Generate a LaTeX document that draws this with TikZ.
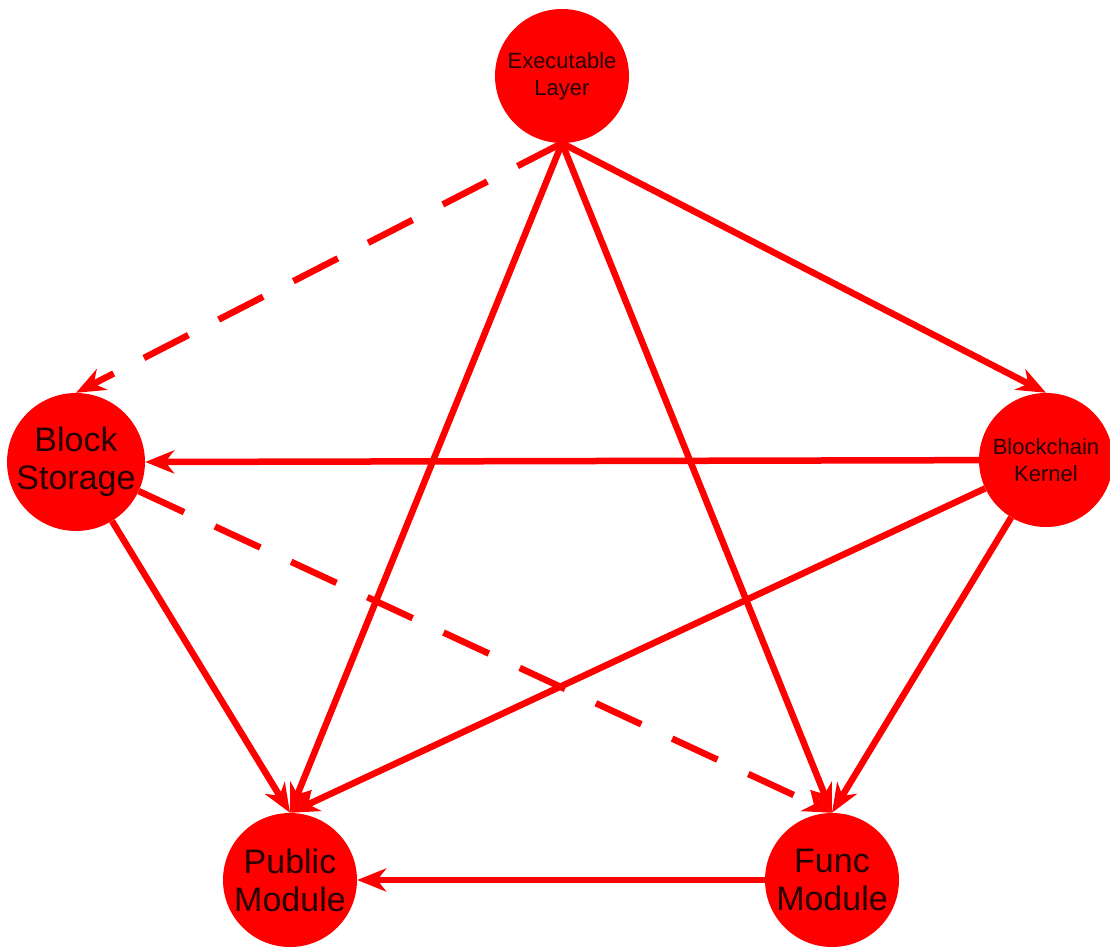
\documentclass[tikz,border=0pt]{standalone}
\usepackage{fontspec}
\setmainfont{Liberation Sans}
\usepackage{tikz}
\usetikzlibrary{arrows.meta,positioning}

\begin{document}
\begin{tikzpicture}[
  x=1pt, y=-1pt,
  layer/.style={circle, fill=red, draw=none, minimum size=134pt,
                inner sep=0pt, align=center, text=black!85!red,
                font=\fontsize{34}{38}\selectfont},
  small/.style={layer, font=\fontsize{22}{27}\selectfont},
  arrow/.style={-{Stealth[length=29pt, width=23pt, inset=9pt]},
                line width=6.5pt, color=red},
  weak/.style={arrow, dash pattern=on 50pt off 34pt}
]
  \useasboundingbox (0,0) rectangle (1110,949);

  \node[small] (exec)   at (562,76)   {Executable\\Layer};
  \node[layer] (store)  at (76,462)   {Block\\Storage};
  \node[small] (kernel) at (1046,460) {Blockchain\\Kernel};
  \node[layer] (public) at (290,880)  {Public\\Module};
  \node[layer] (func)   at (832,880)  {Func\\Module};

  % Arrows
  \draw[weak]  (exec.south) -- (store.north);
  \draw[arrow] (exec.south) -- (kernel.north);
  \draw[arrow] (exec.south) -- (public.north);
  \draw[arrow] (exec.south) -- (func.north);

  \draw[arrow] (kernel) -- (store.east);
  \draw[arrow] (kernel) -- (public.north);
  \draw[arrow] (kernel) -- (func.north);

  \draw[arrow] (store) -- (public.north);
  \draw[weak]  (store) -- (func.north);

  \draw[arrow] (func) -- (public.east);
\end{tikzpicture}
\end{document}
